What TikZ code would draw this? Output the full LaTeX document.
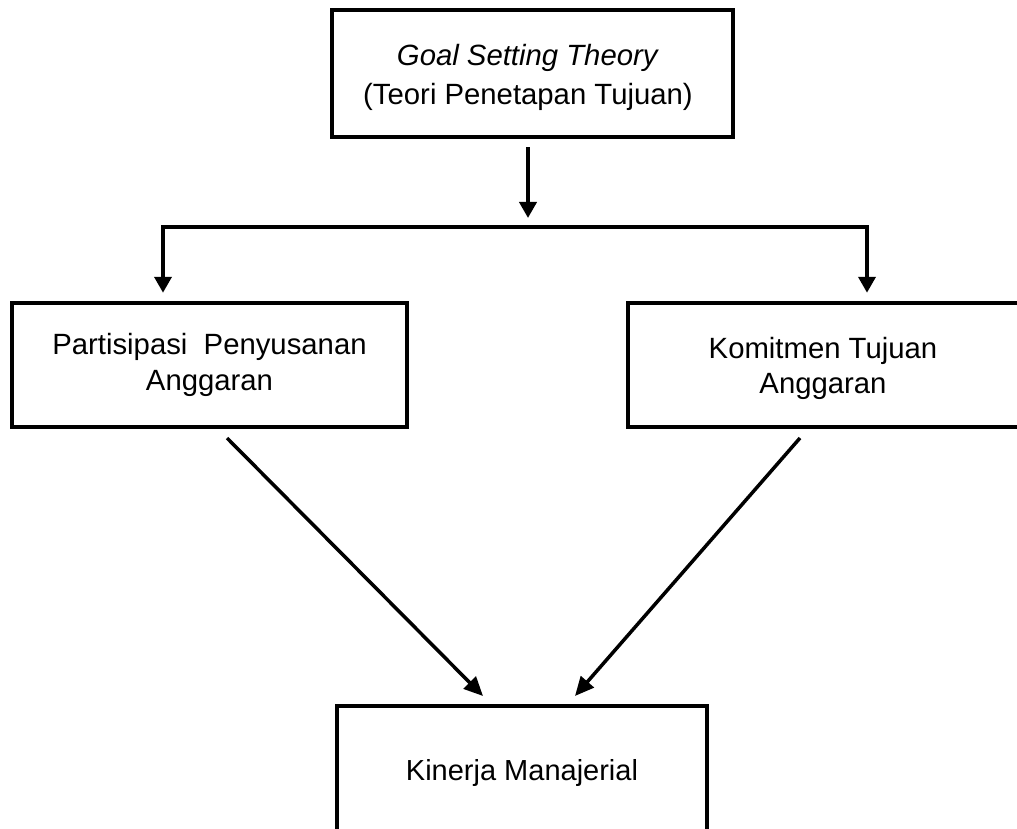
\documentclass[tikz,border=0pt]{standalone}
\usepackage{fontspec}
\setmainfont{Liberation Sans}
\usetikzlibrary{arrows.meta}
\begin{document}
\begin{tikzpicture}[x=1pt,y=-1pt,
  box/.style={draw,line width=4.5pt,rectangle,align=center,inner sep=0pt},
  txt/.style={align=center,inner sep=0pt},
  conn/.style={line width=3.8pt},
  arr/.style={line width=3.8pt,-{Triangle[length=16pt,width=17pt]}},
  darr/.style={line width=3.5pt,-{Triangle[length=19pt,width=17pt]}}]
\useasboundingbox (0,0) rectangle (1017,829);
\clip (0,0) rectangle (1017,829);
\fill[white] (0,0) rectangle (1017,829);
\node[box,minimum width=401pt,minimum height=127pt,
  label={[txt,font=\fontsize{29.3}{39}\selectfont,xshift=-4.5pt,yshift=-4pt]center:{\textit{Goal Setting Theory}\\(Teori Penetapan Tujuan)}}] (top) at (532.5,73.5) {};
\node[box,minimum width=395pt,minimum height=124pt,font=\fontsize{29.3}{36}\selectfont] (left) at (209.5,365)
  {Partisipasi\ \ Penyusanan\\Anggaran};
\node[box,minimum width=393pt,minimum height=124pt,
  label={[txt,font=\fontsize{29.3}{35}\selectfont,xshift=-1.5pt,yshift=-3pt]center:{Komitmen Tujuan\\Anggaran}}] (right) at (824.5,365) {};
\node[box,minimum width=370pt,minimum height=133pt,font=\fontsize{29}{35}\selectfont] (kin) at (522,772.5)
  {Kinerja Manajerial};
\coordinate (j) at (528,227);
\coordinate (jl) at (163,227);
\coordinate (jr) at (867,227);
\draw[arr,shorten <=8pt,shorten >=9pt] (j |- top.south) -- (j);
\draw[conn] ([xshift=-1.9pt]jl) -- ([xshift=1.9pt]jr);
\draw[arr,shorten >=8pt] (jl) -- (jl |- left.north);
\draw[arr,shorten >=8pt] (jr) -- (jr |- right.north);
\coordinate (d1s) at (227,438);
\coordinate (d1e) at (483,696);
\coordinate (d2s) at (800,438);
\coordinate (d2e) at (575,696);
\draw[darr] (d1s) -- (d1e);
\draw[darr] (d2s) -- (d2e);
\end{tikzpicture}
\end{document}
